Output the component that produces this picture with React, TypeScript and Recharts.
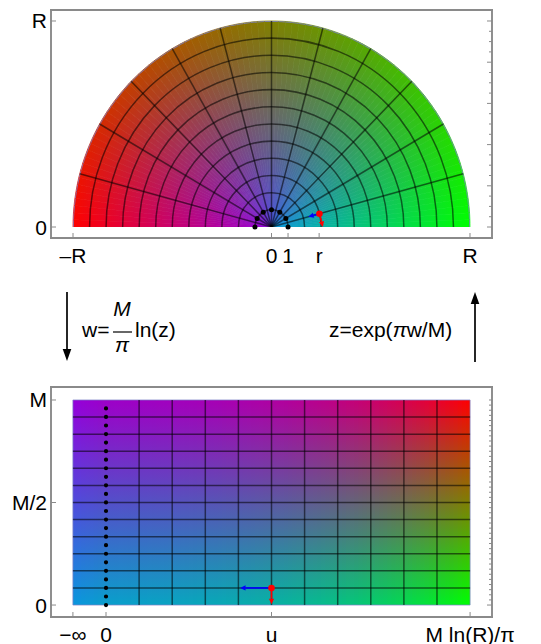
import React from 'react';
import {
  ComposedChart,
  XAxis,
  YAxis,
  Scatter,
  ReferenceLine,
  ReferenceArea,
  RadialBarChart,
  RadialBar,
  PolarGrid,
  PolarAngleAxis,
  PolarRadiusAxis,
  Sector,
} from 'recharts';

const FONT = '"Liberation Sans", Arial, sans-serif';
const FRAME_COLOR = '#8a8a8a';
const GRID_STROKE = { stroke: '#000', strokeOpacity: 0.55, strokeWidth: 1.5 };

// z-plane: half disc of radius R (units of 1), angles in degrees
const R = 12;
const GRID_RADII = [1, 2, 3, 4, 5, 6, 7, 8, 9, 10, 11];
const GRID_ANGLES = [15, 30, 45, 60, 75, 90, 105, 120, 135, 150, 165];
const UNIT_DOT_ANGLES = [0, 30, 60, 90, 120, 150, 180];
const POINT_R = 3;
const POINT_THETA = 15;
const TOP_X_TICKS = [-12, 0, 1, 2.88, 12];
const TOP_X_LABELS = ['\u2013R', '0', '1', 'r', 'R'];
const TOP_Y_TICKS = [0, 12];
const TOP_Y_LABELS = ['0', 'R'];

// w-plane: u in grid columns (0 .. M ln(R)/pi = 11), v in grid rows (0 .. M = 12)
const U_MIN = -1;
const U_MAX = 11;
const V_MAX = 12;
const U_GRID = [1, 2, 3, 4, 5, 6, 7, 8, 9, 10];
const V_GRID = [1, 2, 3, 4, 5, 6, 7, 8, 9, 10, 11];
const POINT_U = 5;
const POINT_V = 1;
const BOTTOM_X_TICKS = [-1, 0, 5, 11];
const BOTTOM_X_LABELS = ['\u2212\u221e', '0', 'u', 'M ln(R)/\u03c0'];
const BOTTOM_Y_TICKS = [0, 6, 12];
const BOTTOM_Y_LABELS = ['0', 'M/2', 'M'];

// colours at the corners of (r/R, theta/pi)
const COLOR_INNER_RIGHT = [10, 150, 222];
const COLOR_INNER_LEFT = [148, 0, 218];
const COLOR_OUTER_RIGHT = [0, 255, 0];
const COLOR_OUTER_LEFT = [255, 0, 0];

const DEG = Math.PI / 180;
const SQUASH = 1.038;

const clamp01 = (v: number) => Math.max(0, Math.min(1, v));

const shade = (s: number, tRaw: number) => {
  const t = clamp01(tRaw);
  const c = [0, 1, 2].map((i) =>
    Math.round(
      (1 - s) * (1 - t) * COLOR_INNER_RIGHT[i] +
        (1 - s) * t * COLOR_INNER_LEFT[i] +
        s * (1 - t) * COLOR_OUTER_RIGHT[i] +
        s * t * COLOR_OUTER_LEFT[i],
    ),
  );
  return `rgb(${c.join(',')})`;
};

const steps = (start: number, step: number, count: number) =>
  Array.from({ length: count }, (_, k) => +(start + k * step).toFixed(4));

// shading mesh
const segments = Array.from({ length: 92 }, (_, i) => ({ seg: i, r: R }));
const strips = Array.from({ length: (U_MAX - U_MIN) * 8 }, (_, k) => {
  const u0 = U_MIN + k / 8;
  const uc = u0 + 1 / 16;
  const s = uc >= 0 ? Math.pow(R, uc / U_MAX - 1) : (uc - U_MIN) / R;
  return { u0, u1: Math.min(u0 + 1 / 8 + 0.03, U_MAX), s };
});

const unitDots = UNIT_DOT_ANGLES.map((a) => ({ x: Math.cos(a * DEG), y: Math.sin(a * DEG) }));
const px = POINT_R * Math.cos(POINT_THETA * DEG);
const py = POINT_R * Math.sin(POINT_THETA * DEG);
const topPoint = [{ x: px, y: py }];
const bottomPoint = [{ x: POINT_U, y: POINT_V }];

const TEXT = { fontFamily: FONT, fontSize: 21, fill: '#000' };

const bottomTick = (ticks: number[], labels: string[]) => (p: any) => (
  <g>
    <line x1={p.x} y1={p.y} x2={p.x} y2={p.y - 5} stroke={FRAME_COLOR} />
    <text x={p.x} y={p.y + 24.5} textAnchor="middle" {...TEXT}>
      {labels[ticks.indexOf(p.payload.value)]}
    </text>
  </g>
);

const leftTick = (ticks: number[], labels: string[]) => (p: any) => (
  <g>
    <line x1={p.x} y1={p.y} x2={p.x + 5} y2={p.y} stroke={FRAME_COLOR} />
    <text x={p.x - 4} y={p.y + 7.5} textAnchor="end" {...TEXT}>
      {labels[ticks.indexOf(p.payload.value)]}
    </text>
  </g>
);

const topMinor = (p: any) => <line x1={p.x} y1={p.y} x2={p.x} y2={p.y + 3} stroke={FRAME_COLOR} />;

const rightMinor = (major: number) => (p: any) => (
  <line x1={p.x} y1={p.y} x2={p.x - (p.index % major === 0 ? 5 : 3)} y2={p.y} stroke={FRAME_COLOR} />
);

const arrowShape = (color: string) => (p: any) => {
  const { x1, y1, x2, y2 } = p;
  const len = Math.hypot(x2 - x1, y2 - y1) || 1;
  const ux = (x2 - x1) / len;
  const uy = (y2 - y1) / len;
  const bx = x2 - ux * 5.5;
  const by = y2 - uy * 5.5;
  return (
    <g>
      <line x1={x1} y1={y1} x2={bx} y2={by} stroke={color} strokeWidth={1.7} />
      <polygon
        points={`${x2},${y2} ${bx - uy * 2.6},${by + ux * 2.6} ${bx + uy * 2.6},${by - ux * 2.6}`}
        fill={color}
      />
    </g>
  );
};

const redDot = (p: any) => <circle cx={p.cx} cy={p.cy} r={3.3} fill="#ff0000" />;
const blackDot = (p: any) => <circle cx={p.cx} cy={p.cy} r={2.5} fill="#000" />;

const SegmentShape = (p: any) => {
  const { cx, cy, innerRadius, outerRadius, startAngle, endAngle } = p;
  const t = (startAngle + endAngle) / 2 / 180;
  const id = `seg-${Math.round(t * 100000)}`;
  return (
    <g>
      <defs>
        <radialGradient id={id} gradientUnits="userSpaceOnUse" cx={cx} cy={cy} r={outerRadius}>
          <stop offset="0" stopColor={shade(0, t)} />
          <stop offset="1" stopColor={shade(1, t)} />
        </radialGradient>
      </defs>
      <Sector
        cx={cx}
        cy={cy}
        innerRadius={innerRadius}
        outerRadius={outerRadius}
        startAngle={startAngle}
        endAngle={endAngle}
        fill={`url(#${id})`}
        stroke={`url(#${id})`}
        strokeWidth={0.7}
      />
      <Sector
        cx={cx}
        cy={cy}
        innerRadius={outerRadius - 0.9}
        outerRadius={outerRadius}
        startAngle={startAngle}
        endAngle={endAngle}
        fill="#7c82c6"
        fillOpacity={0.8}
      />
    </g>
  );
};

const polarProps = {
  width: 541,
  height: 227,
  data: segments,
  cx: 271.5,
  cy: 227,
  innerRadius: 0,
  outerRadius: 198.5,
  startAngle: 182,
  endAngle: -2,
  layout: 'centric' as const,
  barCategoryGap: 0,
  margin: { top: 0, right: 0, bottom: 0, left: 0 },
};

const HalfDiscShading = () => (
  <RadialBarChart {...polarProps}>
    <PolarAngleAxis type="category" dataKey="seg" tick={false} axisLine={false} tickLine={false} />
    <PolarRadiusAxis type="number" domain={[0, R]} tick={false} axisLine={false} tickLine={false} />
    <RadialBar dataKey="r" shape={SegmentShape} isAnimationActive={false} />
  </RadialBarChart>
);

const HalfDiscGrid = () => (
  <RadialBarChart {...polarProps}>
    <PolarGrid gridType="circle" polarAngles={GRID_ANGLES} fill="none" {...GRID_STROKE} />
    <PolarAngleAxis type="category" dataKey="seg" tick={false} axisLine={false} tickLine={false} />
    <PolarRadiusAxis
      type="number"
      domain={[0, R]}
      ticks={GRID_RADII}
      tick={false}
      axisLine={false}
      tickLine={false}
    />
    <RadialBar dataKey="r" shape={() => <g />} isAnimationActive={false} />
  </RadialBarChart>
);

const frameLine = { stroke: FRAME_COLOR, strokeWidth: 1.9, strokeLinecap: 'square' as const };

const TopFrame = () => (
  <ComposedChart width={541} height={270} margin={{ top: 9, right: 48, bottom: 8, left: 11 }}>
    <XAxis
      type="number"
      dataKey="x"
      domain={[-13.33, 13.33]}
      ticks={TOP_X_TICKS}
      interval={0}
      height={24}
      tickSize={0}
      tickMargin={0}
      tickLine={false}
      axisLine={frameLine}
      tick={bottomTick(TOP_X_TICKS, TOP_X_LABELS)}
      allowDataOverflow
    />
    <XAxis
      xAxisId="top"
      orientation="top"
      type="number"
      domain={[-13.33, 13.33]}
      ticks={steps(-11.82, 1.2415, 21)}
      interval={0}
      height={1}
      tickSize={0}
      tickMargin={0}
      tickLine={false}
      axisLine={frameLine}
      tick={topMinor}
      allowDataOverflow
    />
    <YAxis
      type="number"
      dataKey="y"
      domain={[-0.64, 12.64]}
      ticks={TOP_Y_TICKS}
      interval={0}
      width={40}
      tickSize={0}
      tickMargin={0}
      tickLine={false}
      axisLine={frameLine}
      tick={leftTick(TOP_Y_TICKS, TOP_Y_LABELS)}
      allowDataOverflow
    />
    <YAxis
      yAxisId="right"
      orientation="right"
      type="number"
      domain={[-0.64, 12.64]}
      ticks={steps(0, 0.6, 21)}
      interval={0}
      width={1}
      tickSize={0}
      tickMargin={0}
      tickLine={false}
      axisLine={frameLine}
      tick={rightMinor(4)}
      allowDataOverflow
    />
    <ReferenceLine
      segment={[
        { x: px, y: py },
        { x: px - 0.7 * Math.cos(POINT_THETA * DEG), y: py - 0.7 * Math.sin(POINT_THETA * DEG) },
      ]}
      shape={arrowShape('#0000ff')}
    />
    <ReferenceLine
      segment={[
        { x: px, y: py },
        { x: px + 0.8 * Math.sin(POINT_THETA * DEG), y: py - 0.8 * Math.cos(POINT_THETA * DEG) },
      ]}
      shape={arrowShape('#ff0000')}
    />
    <Scatter data={unitDots} dataKey="y" isAnimationActive={false} shape={blackDot} />
    <Scatter data={topPoint} dataKey="y" isAnimationActive={false} shape={redDot} />
  </ComposedChart>
);

const BottomPanel = () => (
  <ComposedChart width={541} height={264} margin={{ top: 6, right: 48, bottom: 3, left: 11 }}>
    <defs>
      {strips.map((s, i) => (
        <linearGradient key={i} id={`strip-${i}`} x1="0" y1="0" x2="0" y2="1">
          <stop offset="0" stopColor={shade(s.s, 1)} />
          <stop offset="1" stopColor={shade(s.s, 0)} />
        </linearGradient>
      ))}
    </defs>
    <XAxis
      type="number"
      dataKey="x"
      domain={[-1.662, 11.662]}
      ticks={BOTTOM_X_TICKS}
      interval={0}
      height={24}
      tickSize={0}
      tickMargin={0}
      tickLine={false}
      axisLine={frameLine}
      tick={bottomTick(BOTTOM_X_TICKS, BOTTOM_X_LABELS)}
      allowDataOverflow
    />
    <XAxis
      xAxisId="top"
      orientation="top"
      type="number"
      domain={[-1.662, 11.662]}
      ticks={steps(-1.471, 0.5395, 25)}
      interval={0}
      height={1}
      tickSize={0}
      tickMargin={0}
      tickLine={false}
      axisLine={frameLine}
      tick={topMinor}
      allowDataOverflow
    />
    <YAxis
      type="number"
      dataKey="y"
      domain={[-0.7, 12.76]}
      ticks={BOTTOM_Y_TICKS}
      interval={0}
      width={40}
      tickSize={0}
      tickMargin={0}
      tickLine={false}
      axisLine={frameLine}
      tick={leftTick(BOTTOM_Y_TICKS, BOTTOM_Y_LABELS)}
      allowDataOverflow
    />
    <YAxis
      yAxisId="right"
      orientation="right"
      type="number"
      domain={[-0.7, 12.76]}
      ticks={steps(0, 0.3, 41)}
      interval={0}
      width={1}
      tickSize={0}
      tickMargin={0}
      tickLine={false}
      axisLine={frameLine}
      tick={rightMinor(1000)}
      allowDataOverflow
    />
    {strips.map((s, i) => (
      <ReferenceArea
        key={`a${i}`}
        x1={s.u0}
        x2={s.u1}
        y1={0}
        y2={V_MAX}
        fill={`url(#strip-${i})`}
        fillOpacity={1}
        stroke="none"
      />
    ))}
    <ReferenceArea
      x1={U_MIN}
      x2={U_MAX}
      y1={0}
      y2={V_MAX}
      fill="none"
      stroke="#7c82c6"
      strokeOpacity={0.8}
      strokeWidth={0.9}
    />
    {U_GRID.map((u) => (
      <ReferenceLine key={`u${u}`} segment={[{ x: u, y: 0 }, { x: u, y: V_MAX }]} {...GRID_STROKE} />
    ))}
    {V_GRID.map((v) => (
      <ReferenceLine key={`v${v}`} segment={[{ x: U_MIN, y: v }, { x: U_MAX, y: v }]} {...GRID_STROKE} />
    ))}
    <ReferenceLine
      segment={[{ x: 0, y: 0 }, { x: 0, y: V_MAX }]}
      stroke="#000"
      strokeWidth={4.2}
      strokeDasharray="0 8.55"
      strokeLinecap="round"
    />
    <ReferenceLine
      segment={[{ x: POINT_U, y: POINT_V }, { x: POINT_U - 0.95, y: POINT_V }]}
      shape={arrowShape('#0000ff')}
    />
    <ReferenceLine
      segment={[{ x: POINT_U, y: POINT_V }, { x: POINT_U, y: POINT_V - 0.95 }]}
      shape={arrowShape('#ff0000')}
    />
    <Scatter data={bottomPoint} dataKey="y" isAnimationActive={false} shape={redDot} />
  </ComposedChart>
);

const Arrow = ({ x, from, to }: { x: number; from: number; to: number }) => {
  const dir = to > from ? 1 : -1;
  const base = to - dir * 12;
  return (
    <g>
      <line x1={x} y1={from} x2={x} y2={base} stroke="#000" strokeWidth={1.7} />
      <polygon points={`${x},${to} ${x - 4.3},${base} ${x + 4.3},${base}`} fill="#000" />
    </g>
  );
};

const Middle = () => (
  <svg width={541} height={110} style={{ position: 'absolute', left: 0, top: 270 }}>
    <Arrow x={67} from={22} to={91} />
    <text x={82} y={67} {...TEXT}>w=</text>
    <text x={122} y={46} textAnchor="middle" fontStyle="italic" {...TEXT}>M</text>
    <line x1={113} y1={62} x2={132} y2={62} stroke="#000" strokeWidth={1.2} />
    <text x={122} y={82} textAnchor="middle" fontStyle="italic" {...TEXT}>{'\u03c0'}</text>
    <text x={135} y={67} {...TEXT}>ln(z)</text>
    <text x={329} y={67} {...TEXT}>
      z=exp(<tspan fontStyle="italic">{'\u03c0'}</tspan>w/M)
    </text>
    <Arrow x={475} from={92} to={22} />
  </svg>
);

export default function App() {
  return (
    <div
      style={{
        position: 'absolute',
        left: 0,
        top: 0,
        width: 541,
        height: 644,
        background: '#fff',
        overflow: 'hidden',
      }}
    >
      <div
        style={{
          position: 'absolute',
          left: 0,
          top: 0,
          width: 541,
          height: 227,
          overflow: 'hidden',
          transform: `scaleY(${SQUASH})`,
          transformOrigin: '50% 100%',
        }}
      >
        <div style={{ position: 'absolute', left: 0, top: 0 }}>
          <HalfDiscShading />
        </div>
        <div style={{ position: 'absolute', left: 0, top: 0 }}>
          <HalfDiscGrid />
        </div>
      </div>
      <div style={{ position: 'absolute', left: 0, top: 0 }}>
        <TopFrame />
      </div>
      <Middle />
      <div style={{ position: 'absolute', left: 0, top: 380 }}>
        <BottomPanel />
      </div>
    </div>
  );
}
